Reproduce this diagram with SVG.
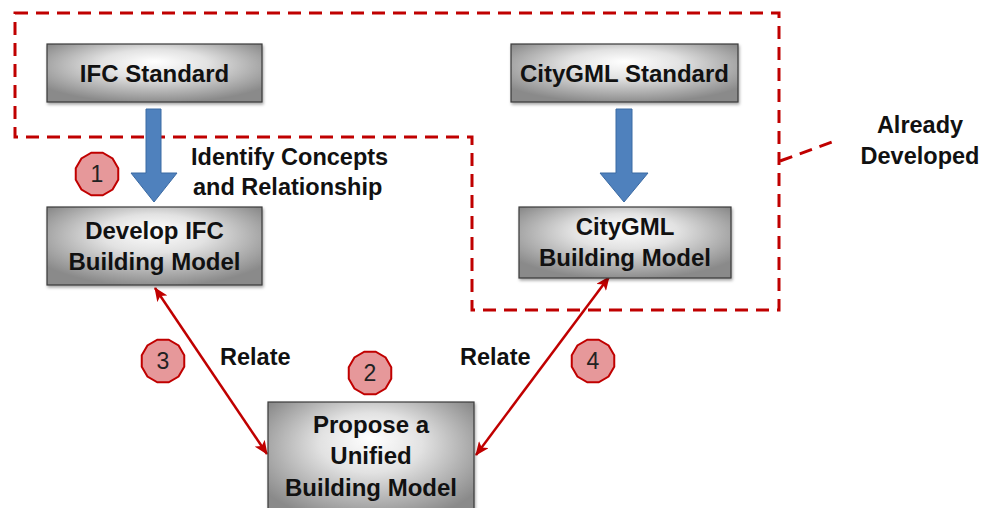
<svg xmlns="http://www.w3.org/2000/svg" width="990" height="508" viewBox="0 0 990 508">
  <defs>
    <radialGradient id="boxGrad" cx="0.5" cy="0.4" r="0.62" fx="0.5" fy="0.3">
      <stop offset="0" stop-color="#ffffff"/>
      <stop offset="0.4" stop-color="#e2e2e2"/>
      <stop offset="1" stop-color="#8a8a8a"/>
    </radialGradient>
    <filter id="shadow" x="-10%" y="-10%" width="120%" height="130%">
      <feDropShadow dx="1" dy="2" stdDeviation="1.5" flood-color="#000" flood-opacity="0.35"/>
    </filter>
    <marker id="redHead" viewBox="0 0 14 12" refX="13" refY="6" markerWidth="14" markerHeight="12" markerUnits="userSpaceOnUse" orient="auto-start-reverse">
      <path d="M0,0 L14,6 L0,12 L3.5,6 Z" fill="#c00000"/>
    </marker>
    <polygon id="badge" points="21.25,5.69 15.56,15.56 5.69,21.25 -5.69,21.25 -15.56,15.56 -21.25,5.69 -21.25,-5.69 -15.56,-15.56 -5.69,-21.25 5.69,-21.25 15.56,-15.56 21.25,-5.69"/>
  </defs>
  <style>
    .box { fill: url(#boxGrad); stroke: #3a3a3a; stroke-width: 1.2; filter: url(#shadow); }
    .lbl { font-family: "Liberation Sans", Arial, sans-serif; font-weight: bold; font-size: 24px; fill: #111; text-anchor: middle; }
    .free { font-family: "Liberation Sans", Arial, sans-serif; font-weight: bold; font-size: 23.5px; fill: #111; }
    .badge { fill: #e6989a; stroke: #c00000; stroke-width: 2; }
    .num { font-family: "Liberation Sans", Arial, sans-serif; font-size: 23px; fill: #222; text-anchor: middle; }
    .dash { fill: none; stroke: #c00000; stroke-width: 3; stroke-dasharray: 13 8; }
    .blue { fill: #4f81bd; stroke: #3b6aa3; stroke-width: 1; }
    .rel { fill: none; stroke: #c00000; stroke-width: 2.5; marker-start: url(#redHead); marker-end: url(#redHead); }
  </style>
  <rect width="990" height="508" fill="#ffffff"/>

  <g id="already-developed">
    <path class="dash" d="M15,13 H779 V310 H472 V137 H15 Z"/>
    <path class="dash" d="M780,161 L832,142"/>
    <text class="free" x="920" y="133" text-anchor="middle">Already</text>
    <text class="free" x="920" y="164" text-anchor="middle">Developed</text>
  </g>

  <g id="connectors">
    <polygon class="blue" points="146,109 161,109 161,173 177,173 154,202 131,173 146,173"/>
    <polygon class="blue" points="616,109 632,109 632,173 648,173 624,202 600,173 616,173"/>
    <line class="rel" x1="155" y1="288" x2="267" y2="454"/>
    <line class="rel" x1="609" y1="277" x2="476" y2="455"/>
    <text class="free" x="191" y="165">Identify Concepts</text>
    <text class="free" x="193" y="195">and Relationship</text>
    <text class="free" x="220" y="365">Relate</text>
    <text class="free" x="460" y="365">Relate</text>
  </g>

  <g id="ifc-standard">
    <rect class="box" x="47" y="44" width="215" height="58"/>
    <text class="lbl" x="154.5" y="82">IFC Standard</text>
  </g>

  <g id="citygml-standard">
    <rect class="box" x="511" y="44" width="227" height="58"/>
    <text class="lbl" x="624.5" y="82">CityGML Standard</text>
  </g>

  <g id="develop-ifc">
    <rect class="box" x="47" y="207" width="215" height="78"/>
    <text class="lbl" x="154.5" y="239">Develop IFC</text>
    <text class="lbl" x="154.5" y="270">Building Model</text>
  </g>

  <g id="citygml-building">
    <rect class="box" x="519" y="207" width="212" height="71"/>
    <text class="lbl" x="625" y="235">CityGML</text>
    <text class="lbl" x="625" y="266">Building Model</text>
  </g>

  <g id="unified-model">
    <rect class="box" x="268" y="402" width="206" height="120"/>
    <text class="lbl" x="371" y="433">Propose a</text>
    <text class="lbl" x="371" y="464">Unified</text>
    <text class="lbl" x="371" y="496">Building Model</text>
  </g>

  <g id="badge-1">
    <use href="#badge" class="badge" transform="translate(97,174)"/>
    <text class="num" x="97" y="182">1</text>
  </g>
  <g id="badge-2">
    <use href="#badge" class="badge" transform="translate(370,373)"/>
    <text class="num" x="370" y="381">2</text>
  </g>
  <g id="badge-3">
    <use href="#badge" class="badge" transform="translate(163,361)"/>
    <text class="num" x="163" y="369">3</text>
  </g>
  <g id="badge-4">
    <use href="#badge" class="badge" transform="translate(593,361)"/>
    <text class="num" x="593" y="369">4</text>
  </g>
</svg>
